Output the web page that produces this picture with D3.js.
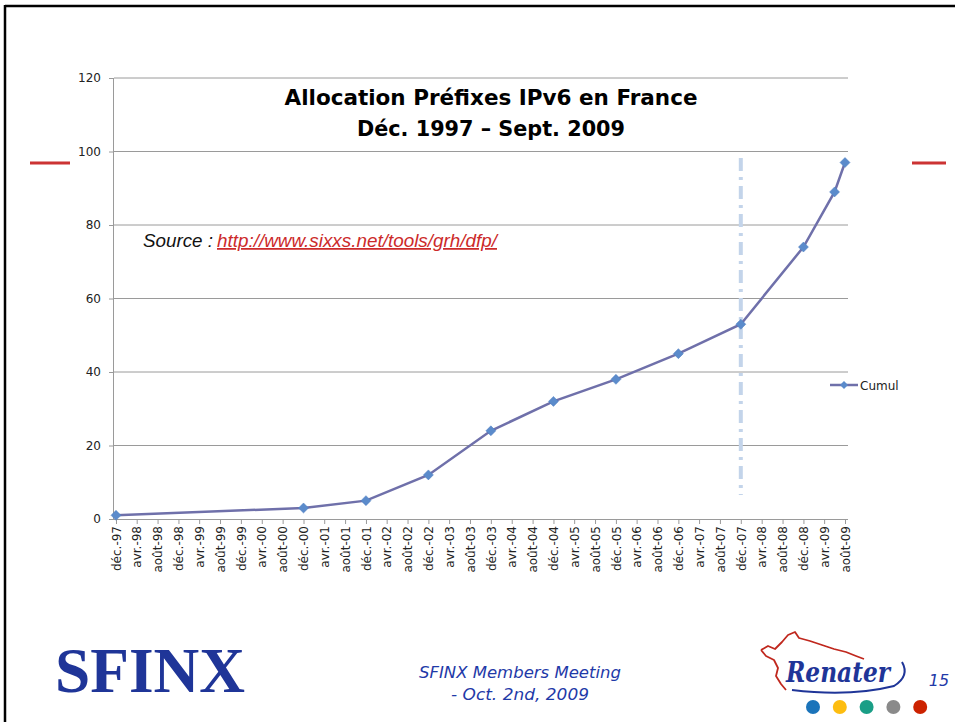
<!DOCTYPE html>
<html>
<head>
<meta charset="utf-8">
<script src="https://cdn.jsdelivr.net/npm/d3@7/dist/d3.min.js"></script>
<style>
  body { margin: 0; background: #fff; }
  svg { display: block; }
</style>
</head>
<body>
<script>
// data
const point_dates = ["1997-12", "2000-12", "2001-12", "2002-12", "2003-12", "2004-12",
                     "2005-12", "2006-12", "2007-12", "2008-12", "2009-06", "2009-08"];
const cumul_values = [1, 3, 5, 12, 24, 32, 38, 45, 53, 74, 89, 97];

const tick_labels = ["déc.-97", "avr.-98", "août-98", "déc.-98", "avr.-99", "août-99",
    "déc.-99", "avr.-00", "août-00", "déc.-00", "avr.-01", "août-01", "déc.-01", "avr.-02",
    "août-02", "déc.-02", "avr.-03", "août-03", "déc.-03", "avr.-04", "août-04", "déc.-04",
    "avr.-05", "août-05", "déc.-05", "avr.-06", "août-06", "déc.-06", "avr.-07", "août-07",
    "déc.-07", "avr.-08", "août-08", "déc.-08", "avr.-09", "août-09"];
const y_ticks = [0, 20, 40, 60, 80, 100, 120];
const marker_date = "2007-12";
const series_name = "Cumul";

const W = 955, H = 722;
const parse = d3.timeParse("%Y-%m");
const first_tick = parse("1997-12");
const tick_dates = tick_labels.map((d, i) => d3.timeMonth.offset(first_tick, i * 4));

const svg = d3.select("body").append("svg")
    .attr("width", W)
    .attr("height", H);

// slide frame
svg.append("rect").attr("width", W).attr("height", H).attr("fill", "#fff");
svg.append("line").attr("x1", 5).attr("x2", W).attr("y1", 6).attr("y2", 6)
    .attr("stroke", "#000").attr("stroke-width", 2.5);
svg.append("line").attr("x1", 5).attr("x2", 5).attr("y1", 5).attr("y2", H)
    .attr("stroke", "#000").attr("stroke-width", 2.5);

// red side dashes
[[30, 70], [912, 946]].forEach(([a, b]) => {
    svg.append("line").attr("x1", a).attr("x2", b).attr("y1", 163).attr("y2", 163)
        .attr("stroke", "#cc3333").attr("stroke-width", 3);
});

const x = d3.scaleTime()
    .domain([parse("1997-12"), parse("2009-08")])
    .range([116, 845]);
const y = d3.scaleLinear()
    .domain([0, 120])
    .range([519, 78]);

const plot_left = 114, plot_right = 848;

// gridlines
svg.append("g")
    .selectAll("line")
    .data(y_ticks.filter(d => d > 0))
    .join("line")
    .attr("x1", plot_left).attr("x2", plot_right)
    .attr("y1", d => y(d)).attr("y2", d => y(d))
    .attr("stroke", "#9a9a9a").attr("stroke-width", 1);

// y axis
const y_axis = svg.append("g")
    .attr("transform", `translate(${plot_left},0)`)
    .call(d3.axisLeft(y).tickValues(y_ticks).tickSize(5).tickPadding(8));
y_axis.select(".domain").attr("stroke", "#9a9a9a").attr("d", `M-0.5,${y(120)}V${y(0)}`);
y_axis.selectAll(".tick line").attr("stroke", "#9a9a9a");
y_axis.selectAll("text")
    .attr("font-family", "DejaVu Sans, Verdana, sans-serif")
    .attr("font-size", 12)
    .attr("fill", "#222");

// x axis
const x_axis = svg.append("g")
    .attr("transform", `translate(0,${y(0)})`)
    .call(d3.axisBottom(x).tickValues(tick_dates).tickSize(5)
        .tickFormat((d, i) => tick_labels[i]));
x_axis.select(".domain").attr("stroke", "#9a9a9a").attr("d", `M${plot_left},0.5H${plot_right}`);
x_axis.selectAll(".tick line").attr("stroke", "#9a9a9a");
x_axis.selectAll("text")
    .attr("font-family", "DejaVu Sans, Verdana, sans-serif")
    .attr("font-size", 12)
    .attr("fill", "#222")
    .attr("text-anchor", "end")
    .attr("dy", "0.35em")
    .attr("transform", "translate(0,3) rotate(-90)")
    .attr("x", -4)
    .attr("y", 0);

// dec-07 marker line (dash-dot)
svg.append("line")
    .attr("x1", x(parse(marker_date))).attr("x2", x(parse(marker_date)))
    .attr("y1", 158).attr("y2", 495)
    .attr("stroke", "#c3d4ea")
    .attr("stroke-width", 4)
    .attr("stroke-dasharray", "13 6 3 6");

// series
const points = point_dates.map((d, i) => ({date: parse(d), value: cumul_values[i]}));
const line = d3.line().x(d => x(d.date)).y(d => y(d.value));

svg.append("path")
    .datum(points)
    .attr("fill", "none")
    .attr("stroke", "#6f70aa")
    .attr("stroke-width", 2.5)
    .attr("d", line);

const diamond = "M0,-5L5,0L0,5L-5,0Z";
svg.append("g")
    .selectAll("path")
    .data(points)
    .join("path")
    .attr("transform", d => `translate(${x(d.date)},${y(d.value)})`)
    .attr("d", diamond)
    .attr("fill", "#5b8bcb")
    .attr("stroke", "#4f7fc0")
    .attr("stroke-width", 0.5);

// legend
const lg = svg.append("g").attr("transform", "translate(830,385)");
lg.append("line").attr("x1", 0).attr("x2", 28).attr("stroke", "#6f70aa").attr("stroke-width", 2.5);
lg.append("path").attr("transform", "translate(14,0)").attr("d", "M0,-4L4,0L0,4L-4,0Z").attr("fill", "#5b8bcb");
lg.append("text").attr("x", 30).attr("y", 4.5)
    .attr("font-family", "DejaVu Sans, Verdana, sans-serif")
    .attr("font-size", 12).attr("fill", "#222")
    .text(series_name);

// title
const title = svg.append("g")
    .attr("font-family", "DejaVu Sans, Verdana, sans-serif")
    .attr("font-weight", "bold")
    .attr("font-size", 22)
    .attr("text-anchor", "middle")
    .attr("fill", "#000");
title.append("text").attr("x", 491).attr("y", 105)
    .attr("textLength", 413).attr("lengthAdjust", "spacingAndGlyphs")
    .text("Allocation Préfixes IPv6 en France");
title.append("text").attr("x", 491).attr("y", 136)
    .attr("textLength", 268).attr("lengthAdjust", "spacingAndGlyphs")
    .text("Déc. 1997 – Sept. 2009");

// source
const src = svg.append("g")
    .attr("font-family", "Liberation Sans, Arial, sans-serif")
    .attr("font-style", "italic")
    .attr("font-size", 17.5);
src.append("text").attr("x", 143).attr("y", 247).attr("fill", "#111")
    .attr("textLength", 70).attr("lengthAdjust", "spacingAndGlyphs")
    .text("Source :");
src.append("text").attr("x", 217).attr("y", 247).attr("fill", "#cc2a2a")
    .attr("text-decoration", "underline")
    .attr("textLength", 280).attr("lengthAdjust", "spacingAndGlyphs")
    .text("http://www.sixxs.net/tools/grh/dfp/");

// footer: SFINX logo
svg.append("text")
    .attr("x", 55).attr("y", 692)
    .attr("font-family", "Liberation Serif, Times New Roman, serif")
    .attr("font-weight", "bold")
    .attr("font-size", 64)
    .attr("fill", "#1f3598")
    .attr("textLength", 190).attr("lengthAdjust", "spacingAndGlyphs")
    .text("SFINX");

const foot = svg.append("g")
    .attr("font-family", "DejaVu Sans, Tahoma, sans-serif")
    .attr("font-style", "italic")
    .attr("font-size", 16)
    .attr("fill", "#1f3aa8")
    .attr("text-anchor", "middle");
foot.append("text").attr("x", 520).attr("y", 678)
    .attr("textLength", 202).attr("lengthAdjust", "spacingAndGlyphs")
    .text("SFINX Members Meeting");
foot.append("text").attr("x", 520).attr("y", 700)
    .attr("textLength", 138).attr("lengthAdjust", "spacingAndGlyphs")
    .text("- Oct. 2nd, 2009");
foot.append("text").attr("x", 939).attr("y", 686).text("15");

// Renater logo
const rl = svg.append("g");
rl.append("path")
    .attr("d", "M761,650 L768,646 L775,649 L782,642 L788,635 L795,632 L799,638 L810,641 L822,645 L834,649 L846,652 L856,656 L864,659"
        + " M761,650 L766,656 L774,660 L778,668 L776,676 L781,684 L786,690")
    .attr("fill", "none")
    .attr("stroke", "#c0281e")
    .attr("stroke-width", 1.8)
    .attr("stroke-linejoin", "round");
rl.append("text")
    .attr("x", 786).attr("y", 682)
    .attr("font-family", "DejaVu Serif, Liberation Serif, serif")
    .attr("font-style", "italic")
    .attr("font-weight", "bold")
    .attr("font-size", 28)
    .attr("fill", "#1f3598")
    .attr("textLength", 104).attr("lengthAdjust", "spacingAndGlyphs")
    .text("Renater");
rl.append("path")
    .attr("d", "M792,690 Q850,697 894,686 Q910,676 902,662")
    .attr("fill", "none").attr("stroke", "#1f3598").attr("stroke-width", 2);
const dot_colors = ["#1b74ba", "#fdbd10", "#1a9e86", "#8a8a8a", "#cc2200"];
rl.selectAll("circle")
    .data(dot_colors)
    .join("circle")
    .attr("cx", (d, i) => 813 + i * 26.8)
    .attr("cy", 707)
    .attr("r", 7)
    .attr("fill", d => d);
</script>
</body>
</html>
